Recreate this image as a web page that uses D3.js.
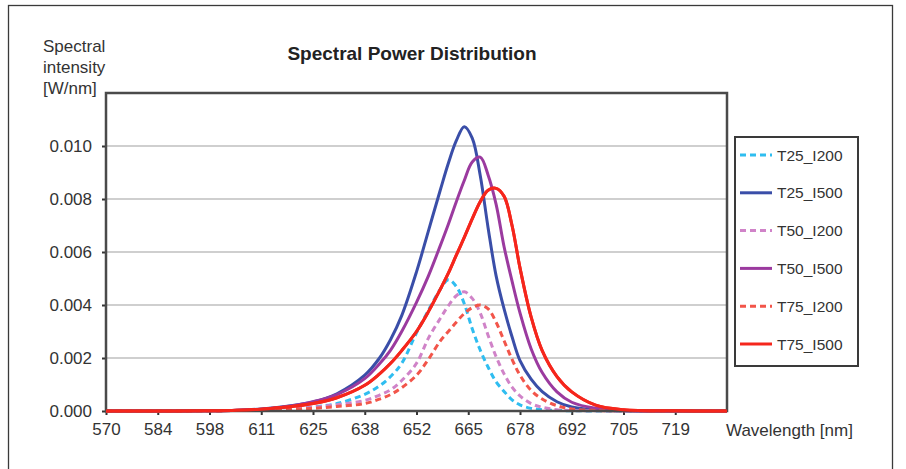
<!DOCTYPE html>
<html>
<head>
<meta charset="utf-8">
<script src="https://cdn.jsdelivr.net/npm/d3@7"></script>
<style>
  html, body { margin: 0; padding: 0; background: #fff; }
  svg { display: block; font-family: "Liberation Sans", Arial, sans-serif; }
</style>
</head>
<body>
<script>
// ---- data ----
const titleText = "Spectral Power Distribution";
const yLabelLines = ["Spectral", "intensity", "[W/nm]"];
const xLabelText = "Wavelength [nm]";
const xTickLabels = [570, 584, 598, 611, 625, 638, 652, 665, 678, 692, 705, 719];
const xAxisEnd = 732;
const yTicks = [0, 0.002, 0.004, 0.006, 0.008, 0.010];
const yMax = 0.012;
const seriesNames = ["T25_I200", "T25_I500", "T50_I200", "T50_I500", "T75_I200", "T75_I500"];
const seriesColors = ["#2fbdf0", "#3a4ea8", "#d083c8", "#9b3a9f", "#f2554a", "#f5261c"];
const seriesDashed = [true, false, true, false, true, false];

const wavelengths = [570,584,598,605,611,618,625,631,638,642,645,648,652,655,658,660,662,664,666,668,670,672,674,676,678,681,684,688,692,698,705,719,732];

const T25_I200 = [0,0,0.00001,0.00002,0.00004,0.00008,0.00015,0.00028,0.00063,0.00095,0.0013,0.0018,0.00295,0.0038,0.0046,0.00495,0.0047,0.00405,0.0031,0.0023,0.00165,0.0011,0.00074,0.00042,0.00023,0.0001,0.00005,0.00002,0.00001,0,0,0,0];
const T25_I500 = [0,0,0.00001,0.00003,0.00008,0.00018,0.00034,0.00065,0.00135,0.002,0.0027,0.0036,0.00525,0.0068,0.00835,0.00935,0.0102,0.01073,0.0103,0.0089,0.0069,0.0051,0.00385,0.0028,0.0019,0.0012,0.00073,0.00035,0.00015,0.00004,0.00001,0,0];
const T50_I200 = [0,0,0.00001,0.00002,0.00004,0.00008,0.00014,0.00024,0.0004,0.0006,0.0008,0.00115,0.0018,0.00275,0.0035,0.00397,0.00435,0.0045,0.00425,0.0037,0.00285,0.00205,0.0014,0.0009,0.00057,0.00028,0.00014,0.00005,0.00002,0.00001,0,0,0];
const T50_I500 = [0,0,0.00001,0.00003,0.00007,0.00017,0.00035,0.00062,0.00122,0.00178,0.0023,0.003,0.0041,0.0051,0.00625,0.00705,0.0079,0.0087,0.0094,0.00958,0.0089,0.0078,0.0062,0.0049,0.0037,0.00235,0.00145,0.00072,0.00033,0.0001,0.00002,0,0];
const T75_I200 = [0,0,0.00001,0.00002,0.00003,0.00006,0.0001,0.00017,0.00028,0.00045,0.00062,0.00088,0.00135,0.00195,0.00265,0.003,0.00335,0.00368,0.0039,0.004,0.00385,0.00335,0.00265,0.00195,0.00135,0.00078,0.00045,0.0002,0.00008,0.00002,0.00001,0,0];
const T75_I500 = [0,0,0.00001,0.00003,0.00007,0.00015,0.00028,0.0005,0.00097,0.0014,0.0018,0.00228,0.003,0.00375,0.0046,0.0052,0.00588,0.00655,0.00725,0.0079,0.00833,0.0084,0.0081,0.007,0.0054,0.00355,0.00228,0.0013,0.00072,0.00022,0.00005,0.00001,0];

const seriesValues = [T25_I200, T25_I500, T50_I200, T50_I500, T75_I200, T75_I500];

// ---- layout ----
const W = 906, H = 469;
const plot = { left: 106, right: 727, top: 93, bottom: 411 };

const svg = d3.select("body").append("svg").attr("width", W).attr("height", H);

// outer frame
svg.append("rect")
  .attr("x", 8.5).attr("y", 5.5).attr("width", 884).attr("height", 480)
  .attr("fill", "#fff").attr("stroke", "#3a3a3a").attr("stroke-width", 1.3);

// scales: categories evenly spaced along the axis
const xDomain = xTickLabels.concat([xAxisEnd]);
const x = d3.scaleLinear()
  .domain(xDomain)
  .range(xDomain.map((d, i) => plot.left + i * (plot.right - plot.left) / (xDomain.length - 1)));
const y = d3.scaleLinear().domain([0, yMax]).range([plot.bottom, plot.top]);

// gridlines
svg.append("g").selectAll("line")
  .data(yTicks.filter(d => d > 0))
  .join("line")
  .attr("x1", plot.left).attr("x2", plot.right)
  .attr("y1", d => y(d)).attr("y2", d => y(d))
  .attr("stroke", "#cfcfcf").attr("stroke-width", 2);

// y axis
const yAxis = d3.axisLeft(y).tickValues(yTicks).tickFormat(d3.format(".3f")).tickSize(4).tickSizeOuter(0).tickPadding(10);
const gy = svg.append("g").attr("transform", `translate(${plot.left},0)`).call(yAxis);
gy.select(".domain").remove();
gy.selectAll(".tick line").attr("stroke", "#333").attr("stroke-width", 2);
gy.selectAll(".tick text").attr("font-size", 17).attr("fill", "#333").attr("font-family", "Liberation Sans, Arial, sans-serif");

// x axis
const xAxis = d3.axisBottom(x).tickValues(xTickLabels).tickFormat(d3.format("d")).tickSize(4).tickSizeOuter(0).tickPadding(8);
const gx = svg.append("g").attr("transform", `translate(0,${plot.bottom})`).call(xAxis);
gx.select(".domain").remove();
gx.selectAll(".tick line").attr("stroke", "#333").attr("stroke-width", 2);
gx.selectAll(".tick text").attr("font-size", 17).attr("fill", "#333").attr("font-family", "Liberation Sans, Arial, sans-serif");

// series lines
const line = d3.line()
  .x(d => x(d[0]))
  .y(d => y(Math.max(0, d[1])))
  .curve(d3.curveCatmullRom.alpha(0.5));
const gLines = svg.append("g");
seriesValues.forEach((vals, i) => {
  const pts = wavelengths.map((w, j) => [w, vals[j]]);
  gLines.append("path")
    .datum(pts)
    .attr("d", line)
    .attr("fill", "none")
    .attr("stroke", seriesColors[i])
    .attr("stroke-width", 3)
    .attr("stroke-linejoin", "round")
    .attr("stroke-dasharray", seriesDashed[i] ? "6,4" : null);
});

// plot frame
svg.append("rect")
  .attr("x", plot.left).attr("y", plot.top)
  .attr("width", plot.right - plot.left).attr("height", plot.bottom - plot.top)
  .attr("fill", "none").attr("stroke", "#4a4a4a").attr("stroke-width", 2.5);
// the last series is drawn again so it lies over the frame's bottom edge, as in the reference
svg.append("path")
  .datum(wavelengths.map((w, j) => [w, T75_I500[j]]))
  .attr("d", line)
  .attr("fill", "none")
  .attr("stroke", seriesColors[5])
  .attr("stroke-width", 3);

// title
svg.append("text")
  .attr("x", 412).attr("y", 60)
  .attr("text-anchor", "middle")
  .attr("font-size", 19).attr("font-weight", "bold").attr("fill", "#222")
  .text(titleText);

// y label (three lines)
svg.append("g").selectAll("text")
  .data(yLabelLines)
  .join("text")
  .attr("x", 43).attr("y", (d, i) => 52 + i * 21)
  .attr("font-size", 17).attr("fill", "#333")
  .text(d => d);

// x label
svg.append("text")
  .attr("x", 726).attr("y", 436)
  .attr("font-size", 17).attr("fill", "#333")
  .text(xLabelText);

// legend
const lg = svg.append("g");
lg.append("rect")
  .attr("x", 735).attr("y", 137).attr("width", 123).attr("height", 229)
  .attr("fill", "#fff").attr("stroke", "#3a3a3a").attr("stroke-width", 2);
const legendY = d3.scalePoint().domain(seriesNames).range([155, 344]);
seriesNames.forEach((name, i) => {
  const yy = legendY(name);
  lg.append("line")
    .attr("x1", 740).attr("x2", 772).attr("y1", yy).attr("y2", yy)
    .attr("stroke", seriesColors[i]).attr("stroke-width", 3)
    .attr("stroke-dasharray", seriesDashed[i] ? "6,4" : null);
  lg.append("text")
    .attr("x", 777).attr("y", yy + 5.5)
    .attr("font-size", 15.5).attr("fill", "#333")
    .text(name);
});
</script>
</body>
</html>
